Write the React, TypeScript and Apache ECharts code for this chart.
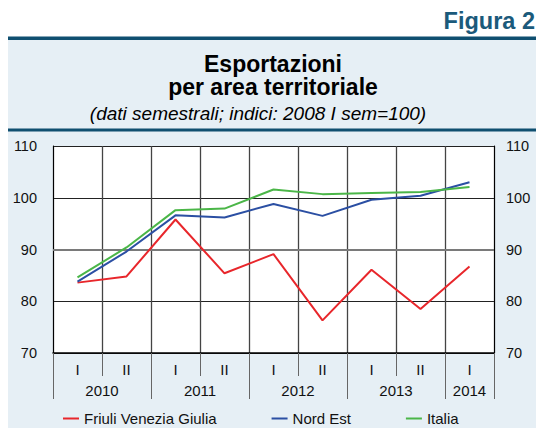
import React, { useEffect, useRef } from "react";
import * as echarts from "echarts";

const semesters = ["I", "II", "I", "II", "I", "II", "I", "II", "I"];
const years = ["2010", "2011", "2012", "2013", "2014"];
const yearCenters = [1, 3, 5, 7, 8.5];
const yearBounds = [0, 2, 4, 6, 8, 9];
const friuli = [83.6, 84.8, 95.8, 85.4, 89.1, 76.3, 86.1, 78.5, 86.7];
const nordEst = [83.8, 89.6, 96.6, 96.2, 98.8, 96.5, 99.6, 100.4, 103.0];
const italia = [84.6, 90.4, 97.6, 97.9, 101.6, 100.7, 100.9, 101.1, 102.1];
const seriesNames = ["Friuli Venezia Giulia", "Nord Est", "Italia"];
const seriesColors = ["#e8262b", "#2b4fa3", "#4bb648"];
const refLevel = 90;

const FONT = "'Liberation Sans', Arial, sans-serif";

export default function App() {
  const ref = useRef<HTMLDivElement>(null);
  useEffect(() => {
    document.body.style.margin = "0";
    const chart = echarts.init(ref.current!, null, { renderer: "svg" });
    const dark = "#0f4f70";
    chart.setOption({
      animation: false,
      backgroundColor: "#ffffff",
      textStyle: { fontFamily: FONT },
      graphic: [
        { type: "rect", z: -10, shape: { x: 8, y: 38, width: 528, height: 390 }, style: { fill: "#e6eff5" } },
        { type: "rect", shape: { x: 8, y: 36.5, width: 528, height: 3.5 }, style: { fill: dark } },
        { type: "rect", shape: { x: 8, y: 128.5, width: 528, height: 3 }, style: { fill: dark } },
        { type: "text", x: 535, y: 21, style: { text: "Figura 2", font: `bold 23.5px ${FONT}`, fill: "#1b5a7b", align: "right", verticalAlign: "middle" } },
        { type: "text", x: 273, y: 63.5, style: { text: "Esportazioni", font: `bold 23px ${FONT}`, fill: "#000", align: "center", verticalAlign: "middle" } },
        { type: "text", x: 273, y: 87, style: { text: "per area territoriale", font: `bold 23px ${FONT}`, fill: "#000", align: "center", verticalAlign: "middle" } },
        { type: "text", x: 258, y: 113.5, style: { text: "(dati semestrali; indici: 2008 I sem=100)", font: `italic 19px ${FONT}`, fill: "#000", align: "center", verticalAlign: "middle" } },
      ],
      grid: { left: 53, right: 42, top: 146, bottom: 75, show: true, backgroundColor: "#ffffff", borderWidth: 0 },
      legend: {
        left: 63,
        top: 411,
        padding: 0,
        itemGap: 55,
        itemWidth: 16,
        itemHeight: 2,
        icon: "rect",
        textStyle: { fontFamily: FONT, fontSize: 15, lineHeight: 15, color: "#111" },
        data: seriesNames,
      },
      xAxis: [
        {
          type: "category",
          data: semesters,
          position: "bottom",
          axisLine: { show: true, lineStyle: { color: "#000", width: 1.5 } },
          axisTick: { show: true, interval: 0, length: 23, lineStyle: { color: "#666" } },
          axisLabel: { interval: 0, margin: 9, fontSize: 15, color: "#111", fontFamily: FONT },
          splitLine: { show: true, interval: 0, lineStyle: { color: "#444", width: 1.3 } },
        },
        {
          type: "value",
          min: 0,
          max: 9,
          position: "bottom",
          axisLine: { show: false },
          axisTick: { show: true, customValues: yearBounds, length: 46, lineStyle: { color: "#666" } },
          axisLabel: {
            customValues: yearCenters,
            margin: 30,
            fontSize: 15,
            color: "#111",
            fontFamily: FONT,
            formatter: (v: number) => {
              const i = yearCenters.indexOf(v);
              return i >= 0 ? years[i] : "";
            },
          },
          splitLine: { show: false },
        },
      ],
      yAxis: [
        {
          type: "value",
          min: 70,
          max: 110,
          interval: 10,
          position: "left",
          axisLine: { show: true, lineStyle: { color: "#000" } },
          axisTick: { show: false },
          axisLabel: { fontSize: 14.5, color: "#111", margin: 16, fontFamily: FONT },
          splitLine: { show: true, lineStyle: { color: "#222", width: 1 } },
        },
        {
          type: "value",
          min: 70,
          max: 110,
          interval: 10,
          position: "right",
          axisLine: { show: true, lineStyle: { color: "#000" } },
          axisTick: { show: false },
          axisLabel: { fontSize: 14.5, color: "#111", margin: 12, fontFamily: FONT },
          splitLine: { show: false },
        },
      ],
      series: [
        { name: seriesNames[0], data: friuli },
        { name: seriesNames[1], data: nordEst },
        { name: seriesNames[2], data: italia },
      ].map((s, i) => ({
        ...s,
        type: "line",
        xAxisIndex: 0,
        yAxisIndex: 0,
        symbol: "none",
        color: seriesColors[i],
        lineStyle: { width: 2, color: seriesColors[i] },
        z: 3 + i,
        ...(i === 0
          ? {
              markLine: {
                silent: true,
                symbol: "none",
                label: { show: false },
                lineStyle: { color: "#7a7a7a", width: 2.2, type: "solid" },
                data: [{ yAxis: refLevel }],
                z: 1,
              },
            }
          : {}),
      })),
    });
    return () => chart.dispose();
  }, []);
  return <div ref={ref} style={{ width: 536, height: 428 }} />;
}
